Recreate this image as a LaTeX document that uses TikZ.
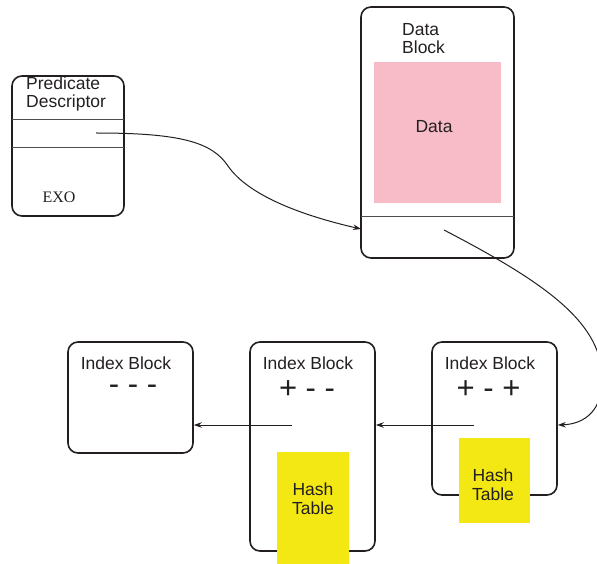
\documentclass[tikz,border=0pt]{standalone}
\usepackage{fontspec}
\setmainfont{Liberation Sans}
\newfontfamily\exofont{Liberation Serif}
\usetikzlibrary{arrows.meta,positioning,calc}
\definecolor{ink}{HTML}{231F20}
\definecolor{datapink}{HTML}{F8BCC8}
\definecolor{hashyel}{HTML}{F4E814}

\tikzset{
  blockbox/.style={draw=ink,line width=1.6pt,rounded corners=10pt,inner sep=0pt},
  ptr/.style={draw=ink,line width=1pt,-{Stealth[length=8pt,width=5.5pt]}},
  sepline/.style={draw=ink!80,line width=0.6pt},
  lbl/.style={text=ink,font=\fontsize{17.5}{18.5}\selectfont,inner sep=0pt,align=left},
  signs/.style={text=ink,font=\fontsize{31}{33}\selectfont,inner sep=0pt},
  fillbox/.style={inner sep=0pt,draw=none},
}

\begin{document}
\begin{tikzpicture}[x=1pt,y=-1pt]
  \useasboundingbox (0,0) rectangle (597,564);

  % predicate descriptor
  \node[blockbox,minimum width=112,minimum height=140] (pred) at (68,146) {};
  \draw[sepline] (12,119) -- (124,119);
  \draw[sepline] (12,147) -- (124,147);
  \node[lbl,anchor=west] (predtitle) at (26,94) {Predicate\\Descriptor};
  \node[text=ink,font=\exofont\fontsize{16}{18}\selectfont,inner sep=0pt] (exo) at (59,197) {EXO};
  \coordinate (predptr) at (96,133);

  % data block
  \node[blockbox,minimum width=153,minimum height=251] (data) at (437.5,132.5) {};
  \node[fillbox,fill=datapink,minimum width=127,minimum height=141] (pink) at (437.5,132.5) {};
  \node[lbl] (datatext) at (434,127) {Data};
  \node[lbl,anchor=west] (datatitle) at (402,38.5) {Data\\Block};
  \draw[sepline] (361,216) -- (514,216);
  \coordinate (dataptr) at (444,230);
  \coordinate (datain) at (361,229);

  % index blocks
  \node[blockbox,minimum width=125,minimum height=111] (blk1) at (130.5,397.5) {};
  \node[blockbox,minimum width=125,minimum height=209] (blk2) at (312.5,446.5) {};
  \node[blockbox,minimum width=125,minimum height=153] (blk3) at (494.5,418.5) {};
  \node[lbl] (blk1title) at (126,363) {Index Block};
  \node[lbl] (blk2title) at (308,363) {Index Block};
  \node[lbl] (blk3title) at (490,363) {Index Block};
  \node[signs] (blk1signs) at (133,390) {- - -};
  \node[signs] (blk2signs) at (307,390) {+ - -};
  \node[signs] (blk3signs) at (488.5,390) {+ - +};

  % hash tables
  \node[fillbox,fill=hashyel,minimum width=72,minimum height=112] (hash2) at (313,508) {};
  \node[lbl,align=center] (hash2text) at (313,498.5) {Hash\\Table};
  \node[fillbox,fill=hashyel,minimum width=71,minimum height=85] (hash3) at (494.5,480.5) {};
  \node[lbl,align=center] (hash3text) at (493,484.5) {Hash\\Table};
  \coordinate (blk2ptr) at (292,425);
  \coordinate (blk3ptr) at (474,425);

  \draw[ptr] (predptr) .. controls (180,133) and (212,142) .. (228,166)
    .. controls (248,195) and (300,215) .. (datain);
  \draw[ptr] (dataptr) .. controls (540,280) and (600,320) .. (602,375)
    .. controls (604,410) and (585,424) .. (blk3.east |- blk3ptr);
  \draw[ptr] (blk3ptr) -- (blk2.east |- blk3ptr);
  \draw[ptr] (blk2ptr) -- (blk1.east |- blk2ptr);
\end{tikzpicture}
\end{document}
